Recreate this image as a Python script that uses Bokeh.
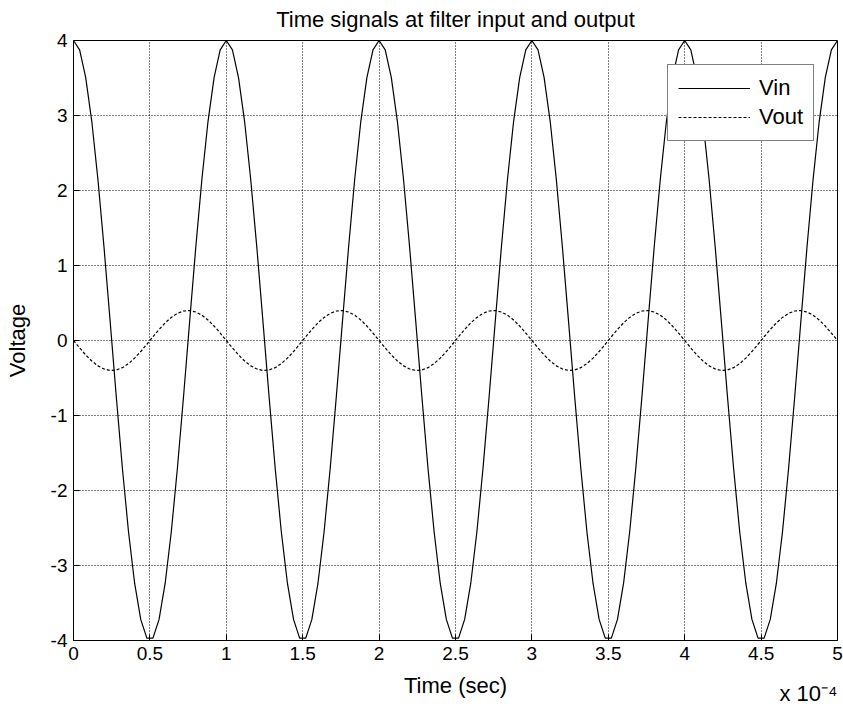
from bokeh.plotting import figure
from bokeh.models import Range1d, FixedTicker, Legend, LegendItem, Title
from bokeh.embed import file_html
from bokeh.resources import INLINE

# ---- data (time axis in units of 1e-4 s) ----
time_e4 = [
    0.00, 0.04, 0.08, 0.12, 0.16, 0.20, 0.24, 0.28, 0.32, 0.36, 0.40, 0.44, 0.48,
    0.52, 0.56, 0.60, 0.64, 0.68, 0.72, 0.76, 0.80, 0.84, 0.88, 0.92, 0.96,
    1.00, 1.04, 1.08, 1.12, 1.16, 1.20, 1.24, 1.28, 1.32, 1.36, 1.40, 1.44, 1.48,
    1.52, 1.56, 1.60, 1.64, 1.68, 1.72, 1.76, 1.80, 1.84, 1.88, 1.92, 1.96,
    2.00, 2.04, 2.08, 2.12, 2.16, 2.20, 2.24, 2.28, 2.32, 2.36, 2.40, 2.44, 2.48,
    2.52, 2.56, 2.60, 2.64, 2.68, 2.72, 2.76, 2.80, 2.84, 2.88, 2.92, 2.96,
    3.00, 3.04, 3.08, 3.12, 3.16, 3.20, 3.24, 3.28, 3.32, 3.36, 3.40, 3.44, 3.48,
    3.52, 3.56, 3.60, 3.64, 3.68, 3.72, 3.76, 3.80, 3.84, 3.88, 3.92, 3.96,
    4.00, 4.04, 4.08, 4.12, 4.16, 4.20, 4.24, 4.28, 4.32, 4.36, 4.40, 4.44, 4.48,
    4.52, 4.56, 4.60, 4.64, 4.68, 4.72, 4.76, 4.80, 4.84, 4.88, 4.92, 4.96,
    5.00,
]

vin = [
    4.000, 3.874, 3.505, 2.916, 2.143, 1.236, 0.251, -0.750, -1.703, -2.550, -3.236, -3.719, -3.968,
    -3.968, -3.719, -3.236, -2.550, -1.703, -0.750, 0.251, 1.236, 2.143, 2.916, 3.505, 3.874,
    4.000, 3.874, 3.505, 2.916, 2.143, 1.236, 0.251, -0.750, -1.703, -2.550, -3.236, -3.719, -3.968,
    -3.968, -3.719, -3.236, -2.550, -1.703, -0.750, 0.251, 1.236, 2.143, 2.916, 3.505, 3.874,
    4.000, 3.874, 3.505, 2.916, 2.143, 1.236, 0.251, -0.750, -1.703, -2.550, -3.236, -3.719, -3.968,
    -3.968, -3.719, -3.236, -2.550, -1.703, -0.750, 0.251, 1.236, 2.143, 2.916, 3.505, 3.874,
    4.000, 3.874, 3.505, 2.916, 2.143, 1.236, 0.251, -0.750, -1.703, -2.550, -3.236, -3.719, -3.968,
    -3.968, -3.719, -3.236, -2.550, -1.703, -0.750, 0.251, 1.236, 2.143, 2.916, 3.505, 3.874,
    4.000, 3.874, 3.505, 2.916, 2.143, 1.236, 0.251, -0.750, -1.703, -2.550, -3.236, -3.719, -3.968,
    -3.968, -3.719, -3.236, -2.550, -1.703, -0.750, 0.251, 1.236, 2.143, 2.916, 3.505, 3.874,
    4.000,
]

vout = [
    0.000, -0.099, -0.193, -0.274, -0.338, -0.380, -0.399, -0.393, -0.362, -0.308, -0.235, -0.147, -0.050,
    0.050, 0.147, 0.235, 0.308, 0.362, 0.393, 0.399, 0.380, 0.338, 0.274, 0.193, 0.099,
    0.000, -0.099, -0.193, -0.274, -0.338, -0.380, -0.399, -0.393, -0.362, -0.308, -0.235, -0.147, -0.050,
    0.050, 0.147, 0.235, 0.308, 0.362, 0.393, 0.399, 0.380, 0.338, 0.274, 0.193, 0.099,
    0.000, -0.099, -0.193, -0.274, -0.338, -0.380, -0.399, -0.393, -0.362, -0.308, -0.235, -0.147, -0.050,
    0.050, 0.147, 0.235, 0.308, 0.362, 0.393, 0.399, 0.380, 0.338, 0.274, 0.193, 0.099,
    0.000, -0.099, -0.193, -0.274, -0.338, -0.380, -0.399, -0.393, -0.362, -0.308, -0.235, -0.147, -0.050,
    0.050, 0.147, 0.235, 0.308, 0.362, 0.393, 0.399, 0.380, 0.338, 0.274, 0.193, 0.099,
    0.000, -0.099, -0.193, -0.274, -0.338, -0.380, -0.399, -0.393, -0.362, -0.308, -0.235, -0.147, -0.050,
    0.050, 0.147, 0.235, 0.308, 0.362, 0.393, 0.399, 0.380, 0.338, 0.274, 0.193, 0.099,
    0.000,
]

series_names = ["Vin", "Vout"]
x_ticks = [0, 0.5, 1, 1.5, 2, 2.5, 3, 3.5, 4, 4.5, 5]
x_tick_labels = ["0", "0.5", "1", "1.5", "2", "2.5", "3", "3.5", "4", "4.5", "5"]
y_ticks = [-4, -3, -2, -1, 0, 1, 2, 3, 4]
y_tick_labels = ["-4", "-3", "-2", "-1", "0", "1", "2", "3", "4"]
title_text = "Time signals at filter input and output"
x_label = "Time (sec)"
y_label = "Voltage"
x_multiplier = "x 10\u207b\u2074"

FONT = "Liberation Sans"

p = figure(width=843, height=710, output_backend="svg", toolbar_location=None,
           x_range=Range1d(0, 5), y_range=Range1d(-4, 4),
           min_border_left=73, min_border_right=6, min_border_top=40,
           min_border_bottom=70, background_fill_color="white",
           border_fill_color="white")

p.title.text = title_text
p.title.align = "center"
p.title.vertical_align = "top"
p.title.text_font = FONT
p.title.text_font_size = "22px"
p.title.text_font_style = "normal"
p.title.text_color = "black"
p.title.standoff = 13

p.outline_line_color = "black"
p.outline_line_width = 1
p.outline_line_alpha = 1

for ax, ticks, labels in ((p.xaxis[0], x_ticks, x_tick_labels), (p.yaxis[0], y_ticks, y_tick_labels)):
    ax.ticker = FixedTicker(ticks=ticks)
    ax.major_label_overrides = {t: l for t, l in zip(ticks, labels)}
    ax.major_label_text_font = FONT
    ax.major_label_text_font_size = "19px"
    ax.major_label_text_color = "black"
    ax.axis_label_text_font = FONT
    ax.axis_label_text_font_size = "22px"
    ax.axis_label_text_font_style = "normal"
    ax.axis_label_text_color = "black"
    ax.axis_line_color = "black"
    ax.major_tick_line_color = "black"
    ax.major_tick_in = 6
    ax.major_tick_out = 0
    ax.minor_tick_line_color = None

p.xaxis.axis_label = x_label
p.yaxis.axis_label = y_label
p.xaxis.major_label_standoff = 6
p.yaxis.major_label_standoff = 6
p.xaxis.axis_label_standoff = 10
p.yaxis.axis_label_standoff = 18

for g in (p.xgrid[0], p.ygrid[0]):
    g.grid_line_color = "black"
    g.grid_line_dash = "1 2"
    g.grid_line_width = 1
    g.grid_line_alpha = 1
p.xgrid.ticker = FixedTicker(ticks=x_ticks)
p.ygrid.ticker = FixedTicker(ticks=y_ticks)

r1 = p.line(time_e4, vin, line_color="black", line_width=1.2)
r2 = p.line(time_e4, vout, line_color="black", line_width=1.2, line_dash="3 2")

legend = Legend(items=[LegendItem(label=series_names[0], renderers=[r1]),
                       LegendItem(label=series_names[1], renderers=[r2])],
                location=(594, 499))
legend.label_text_font = FONT
legend.label_text_font_size = "22px"
legend.label_text_color = "black"
legend.border_line_color = "black"
legend.border_line_width = 1.5
legend.background_fill_color = "white"
legend.background_fill_alpha = 1
legend.glyph_width = 72
legend.glyph_height = 24
legend.label_height = 24
legend.label_standoff = 9
legend.padding = 10
legend.spacing = 3
legend.margin = 0
p.add_layout(legend)

# axis multiplier at the lower right: a title in the bottom panel, top-aligned,
# whose negative standoff lifts it into the row of the axis label
mult = Title(text=x_multiplier, align="right", vertical_align="top",
             offset=0, standoff=-40, text_font=FONT, text_font_size="22px",
             text_font_style="normal", text_color="black")
p.add_layout(mult, "below")

open("out.html", "w").write(file_html(p, INLINE))
